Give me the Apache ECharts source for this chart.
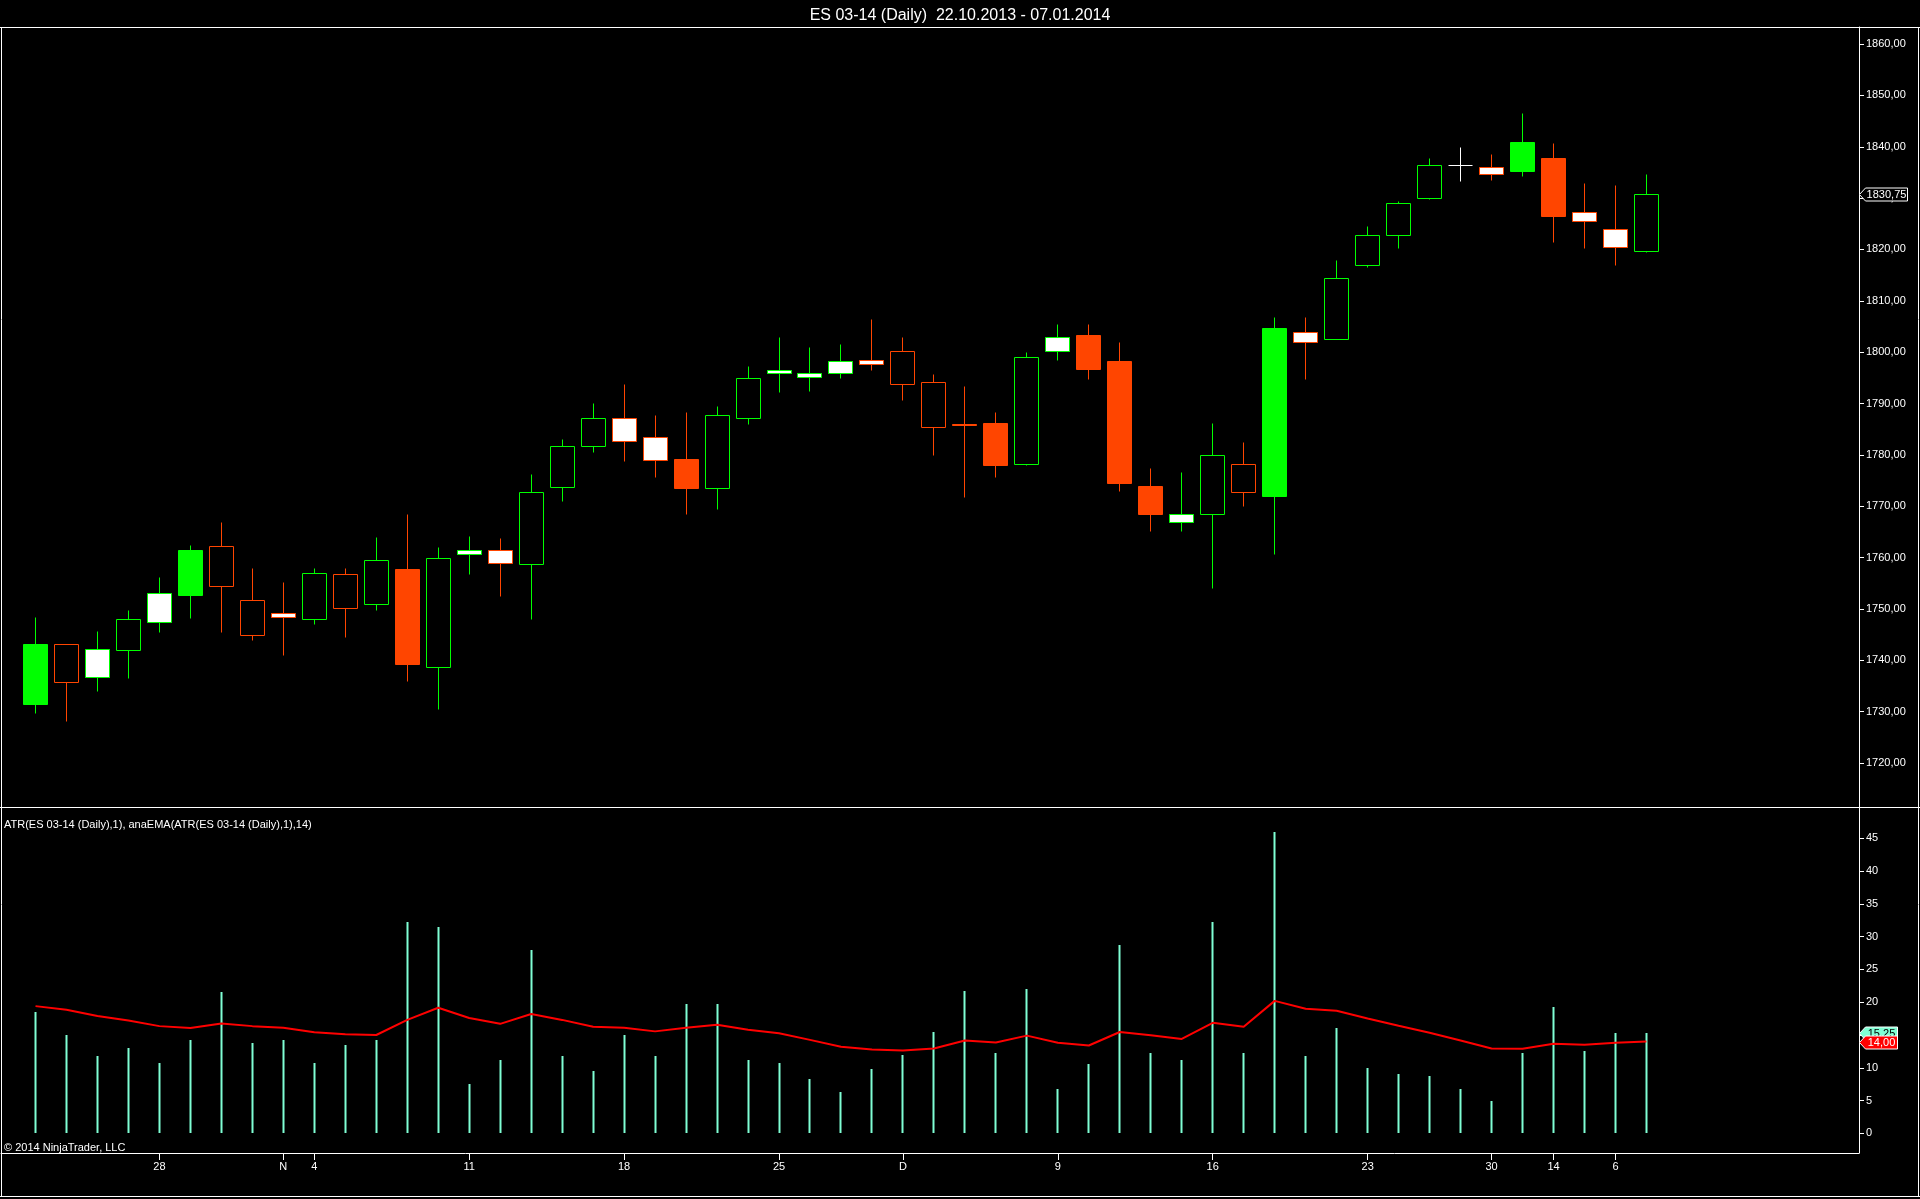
<!DOCTYPE html>
<html>
<head>
<meta charset="utf-8">
<script src="https://cdn.jsdelivr.net/npm/echarts@6/dist/echarts.min.js"></script>
<style>
html,body{margin:0;padding:0;background:#000;}
#c{width:1920px;height:1199px;}
</style>
</head>
<body>
<div id="c"></div>
<script>
// ---------------- DATA ----------------
const dates = [
  '22.10.2013','23.10.2013','24.10.2013','25.10.2013','28.10.2013','29.10.2013','30.10.2013','31.10.2013',
  '01.11.2013','04.11.2013','05.11.2013','06.11.2013','07.11.2013','08.11.2013','11.11.2013','12.11.2013',
  '13.11.2013','14.11.2013','15.11.2013','18.11.2013','19.11.2013','20.11.2013','21.11.2013','22.11.2013',
  '25.11.2013','26.11.2013','27.11.2013','29.11.2013',
  '02.12.2013','03.12.2013','04.12.2013','05.12.2013','06.12.2013','09.12.2013','10.12.2013','11.12.2013',
  '12.12.2013','13.12.2013','16.12.2013','17.12.2013','18.12.2013','19.12.2013','20.12.2013','23.12.2013',
  '24.12.2013','26.12.2013','27.12.2013','30.12.2013','31.12.2013',
  '02.01.2014','03.01.2014','06.01.2014','07.01.2014'
];
const opens  = [1731.5,1743.25,1736.75,1742,1747.5,1752.75,1762.25,1751.75,1749.25,1748,1756.75,1751,1757.75,1738.75,1760.75,1761.5,1758.75,1773.75,1781.75,1787.25,1783.5,1779.25,1773.5,1787.25,1796,1795.25,1796,1798.5,1800.25,1794.25,1786,1786.25,1778.25,1800.25,1803.25,1798.25,1774,1767,1768.5,1778.25,1772,1804,1802.5,1817,1822.75,1830,1836.5,1836,1835.25,1837.75,1827.25,1824,1819.75];
const highs  = [1748.5,1743.25,1745.75,1749.75,1756.25,1762.5,1767,1758,1755.25,1758,1758,1764,1768.5,1762,1764.25,1763.75,1776.25,1783,1790,1793.75,1787.75,1788.25,1789.5,1797.25,1803,1801,1801.5,1806.5,1803,1795.75,1793.5,1788.25,1800,1805.5,1805.5,1802,1777.5,1776.75,1786.25,1782.5,1806.75,1806.75,1818,1824.5,1829.5,1837.75,1840,1838.5,1846.5,1840.75,1833,1832.5,1834.75];
const lows   = [1729.75,1728.25,1734,1736.5,1745.5,1748.25,1745.5,1744,1741,1747,1744.5,1749.75,1736,1730.5,1756.75,1752.5,1748,1771,1780.5,1778.75,1775.75,1768.5,1769.5,1786,1792.25,1792.5,1795,1796.5,1790.75,1780,1771.75,1775.75,1778,1798.5,1794.75,1773,1765.25,1765.25,1754,1770,1760.75,1794.75,1802.5,1816.5,1820.25,1829.75,1833.25,1833.5,1834.25,1821.5,1820.25,1817,1819.5];
const closes = [1743.25,1735.75,1742.25,1748,1753,1761.5,1754.5,1745,1748.5,1757,1750.25,1759.5,1739.25,1760,1761.5,1759,1772.75,1781.75,1787.25,1782.75,1779,1773.5,1787.75,1795,1796.5,1796,1798.25,1797.75,1793.75,1785.5,1785.75,1778,1799,1803,1796.75,1774.5,1768.5,1768.5,1780,1772.75,1804.75,1802,1814.5,1822.75,1829,1836.5,1836.5,1834.75,1841,1826.5,1825.5,1820.5,1830.75];
// body paint as shown on each bar: S = solid, H = hollow, W = white body
const bodyPaint = ['S','H','W','H','W','S','H','H','W','H','H','H','S','H','W','W','H','H','H','W','W','S','H','H','W','W','W','W','H','H','S','S','H','W','S','S','S','W','H','H','S','W','H','H','H','H','W','W','S','S','W','W','H'];
const atrValues = [18.5,15,11.75,13,10.75,14.25,21.5,13.75,14.25,10.75,13.5,14.25,32.25,31.5,7.5,11.25,28,11.75,9.5,15,11.75,19.75,19.75,11.25,10.75,8.25,6.25,9.75,12,15.5,21.75,12.25,22,6.75,10.5,28.75,12.25,11.25,32.25,12.25,46,11.75,16,10,9,8.75,6.75,5,12.25,19.25,12.5,15.25,15.25];
const emaValues = [19.4,18.85,17.9,17.2,16.35,16.05,16.75,16.35,16.1,15.4,15.1,15.0,17.3,19.15,17.6,16.7,18.2,17.3,16.25,16.1,15.55,16.1,16.55,15.8,15.25,14.25,13.2,12.8,12.65,12.95,14.15,13.85,14.9,13.8,13.4,15.45,14.95,14.4,16.85,16.25,20.2,19.0,18.7,17.5,16.4,15.35,14.15,12.95,12.9,13.65,13.5,13.8,14.0];
const tickDates = ['28.10.2013','01.11.2013','04.11.2013','11.11.2013','18.11.2013','25.11.2013','02.12.2013','09.12.2013','16.12.2013','23.12.2013','30.12.2013','02.01.2014','06.01.2014'];
const tickTexts = ['28','N','4','11','18','25','D','9','16','23','30','14','6'];
const priceTicks = [1720,1730,1740,1750,1760,1770,1780,1790,1800,1810,1820,1830,1840,1850,1860];
const atrTicks = [0,5,10,15,20,25,30,35,40,45];
const titleText = 'ES 03-14 (Daily)  22.10.2013 - 07.01.2014';
const indicatorText = 'ATR(ES 03-14 (Daily),1), anaEMA(ATR(ES 03-14 (Daily),1),14)';
const copyrightText = '\u00A9 2014 NinjaTrader, LLC';

// ---------------- STYLE ----------------
const UP = '#00FF00', DOWN = '#FF4500', DOJI = '#FFFFFF', ATRC = '#7FFFD4', EMAC = '#FF0000';
const FONT = "'Liberation Sans', Arial, sans-serif";

const candleData = dates.map((d, i) => [i, opens[i], highs[i], lows[i], closes[i]]);
const atrData = atrValues.map((v, i) => [i, v]);
const emaData = emaValues.map((v, i) => [i, v]);
const tickIdx = tickDates.map(d => dates.indexOf(d));
const tickMap = {};
tickIdx.forEach((k, j) => { tickMap[k] = tickTexts[j]; });

const X_MIN = -1.1136, X_MAX = 58.861;
const fmt2 = v => v.toFixed(2).replace('.', ',');

function renderCandle(params, api) {
  const i = api.value(0), o = api.value(1), h = api.value(2), l = api.value(3), c = api.value(4);
  const paint = bodyPaint[params.dataIndex];
  const pO = api.coord([i, o]), pC = api.coord([i, c]);
  const pH = api.coord([i, h]), pL = api.coord([i, l]);
  const cx = Math.round(pO[0] - 0.5) + 0.5;
  const half = 12;
  const color = c > o ? UP : (c < o ? DOWN : DOJI);
  const yT = Math.round(Math.min(pO[1], pC[1])) + 0.5;
  const yB = Math.round(Math.max(pO[1], pC[1])) + 0.5;
  const yH = Math.round(pH[1]) + 0.5, yL = Math.round(pL[1]) + 0.5;
  const children = [];
  const ls = {stroke: color, lineWidth: 1};
  if (yH < yT) children.push({type: 'line', shape: {x1: cx, y1: yH, x2: cx, y2: yT}, style: ls});
  if (yL > yB) children.push({type: 'line', shape: {x1: cx, y1: yB, x2: cx, y2: yL}, style: ls});
  if (c === o) {
    children.push({type: 'line', shape: {x1: cx - half, y1: yT, x2: cx + half, y2: yT}, style: ls});
  } else {
    let fill = '#000';
    if (paint === 'S') fill = color;
    else if (paint === 'W') fill = '#FFFFFF';
    children.push({type: 'rect', shape: {x: cx - half, y: yT, width: half * 2, height: Math.max(1, yB - yT)},
      style: {fill: fill, stroke: color, lineWidth: 1}});
  }
  return {type: 'group', children: children};
}

function renderAtr(params, api) {
  const i = api.value(0), v = api.value(1);
  const p = api.coord([i, v]), b = api.coord([i, 0]);
  const x = Math.round(p[0] - 0.5) - 0.5;
  return {type: 'rect', shape: {x: x, y: Math.round(p[1]), width: 2, height: Math.round(b[1]) - Math.round(p[1])},
    style: {fill: ATRC}};
}

const chart = echarts.init(document.getElementById('c'), null, {renderer: 'canvas', width: 1920, height: 1199});

const axisText = {color: '#FFFFFF', fontFamily: FONT, fontSize: 11};

chart.setOption({
  backgroundColor: '#000000',
  animation: false,
  title: {
    text: titleText, left: 'center', top: 3,
    textStyle: {color: '#FFFFFF', fontFamily: FONT, fontSize: 16, fontWeight: 'normal'}
  },
  grid: [
    {left: 1, top: 27, width: 1858, height: 780},
    {left: 1, top: 807, width: 1858, height: 346}
  ],
  xAxis: [
    {type: 'value', gridIndex: 0, min: X_MIN, max: X_MAX, show: false},
    {type: 'value', gridIndex: 1, min: X_MIN, max: X_MAX, position: 'bottom',
      axisLine: {show: true, onZero: false, lineStyle: {color: '#FFFFFF', width: 1}},
      axisTick: {show: true, length: 7, lineStyle: {color: '#FFFFFF'}, customValues: tickIdx},
      axisLabel: Object.assign({customValues: tickIdx, margin: 8, formatter: v => tickMap[v] || ''}, axisText),
      splitLine: {show: false}}
  ],
  yAxis: [
    {type: 'value', gridIndex: 0, position: 'right', min: 1711.41, max: 1863.33,
      axisLine: {show: true, onZero: false, lineStyle: {color: '#FFFFFF', width: 1}},
      axisTick: {show: true, length: 5, lineStyle: {color: '#FFFFFF'}, customValues: priceTicks},
      axisLabel: Object.assign({customValues: priceTicks, margin: 7, formatter: v => fmt2(v)}, axisText),
      splitLine: {show: false}},
    {type: 'value', gridIndex: 1, position: 'right', min: -3.0, max: 49.77,
      axisLine: {show: true, onZero: false, lineStyle: {color: '#FFFFFF', width: 1}},
      axisTick: {show: true, length: 5, lineStyle: {color: '#FFFFFF'}, customValues: atrTicks},
      axisLabel: Object.assign({customValues: atrTicks, margin: 7, formatter: v => String(v)}, axisText),
      splitLine: {show: false}}
  ],
  series: [
    {type: 'custom', name: 'ES 03-14', xAxisIndex: 0, yAxisIndex: 0, renderItem: renderCandle,
      data: candleData, encode: {x: 0, y: [1, 2, 3, 4]}, clip: true, silent: true},
    {type: 'custom', name: 'ATR', xAxisIndex: 1, yAxisIndex: 1, renderItem: renderAtr,
      data: atrData, encode: {x: 0, y: 1}, clip: true, silent: true},
    {type: 'line', name: 'anaEMA', xAxisIndex: 1, yAxisIndex: 1, data: emaData,
      symbol: 'none', lineStyle: {color: EMAC, width: 2}, silent: true, z: 5}
  ]
});

// ---- decorations: frame, texts and last-value markers ----
const lastIdx = dates.length - 1;
const yPrice = chart.convertToPixel({yAxisIndex: 0}, closes[lastIdx]);
const yAtr = chart.convertToPixel({yAxisIndex: 1}, atrValues[lastIdx]);
const yEma = chart.convertToPixel({yAxisIndex: 1}, emaValues[lastIdx]);
const axisX = 1859;

function marker(yc, w, h, fill, textColor, text, z) {
  const x0 = axisX + 0.5, yy = Math.round(yc) + 0.5, hh = h / 2;
  return [
    {type: 'polygon', z: z, shape: {points: [[x0, yy], [x0 + 6, yy - hh], [x0 + w, yy - hh], [x0 + w, yy + hh], [x0 + 6, yy + hh]]},
      style: {fill: fill, stroke: '#FFFFFF', lineWidth: 1}},
    {type: 'text', z: z + 1, x: x0 + 6 + (w - 6) / 2, y: yy + 0.5,
      style: {text: text, fill: textColor, font: '11px ' + FONT, align: 'center', verticalAlign: 'middle'}}
  ];
}

const hl = (x1, y1, x2, y2) => ({type: 'line', z: 50, shape: {x1: x1, y1: y1, x2: x2, y2: y2}, style: {stroke: '#FFFFFF', lineWidth: 1}});

chart.setOption({
  graphic: [
    hl(0, 27.5, 1920, 27.5),
    hl(0, 807.5, 1920, 807.5),
    hl(1.5, 27, 1.5, 1197),
    hl(1918.5, 27, 1918.5, 1197),
    hl(0, 1196.5, 1920, 1196.5),
    {type: 'text', z: 60, x: 4, y: 825, style: {text: indicatorText, fill: '#FFFFFF', font: '11px ' + FONT, verticalAlign: 'middle'}},
    {type: 'text', z: 60, x: 4, y: 1148, style: {text: copyrightText, fill: '#FFFFFF', font: '11px ' + FONT, verticalAlign: 'middle'}},
    ...marker(yPrice, 48, 13, '#000000', '#FFFFFF', fmt2(closes[lastIdx]), 70),
    ...marker(yAtr, 38, 13, ATRC, '#000000', fmt2(atrValues[lastIdx]), 72),
    ...marker(yEma, 38, 13, EMAC, '#FFFFFF', fmt2(emaValues[lastIdx]), 74)
  ]
});
</script>
</body>
</html>
